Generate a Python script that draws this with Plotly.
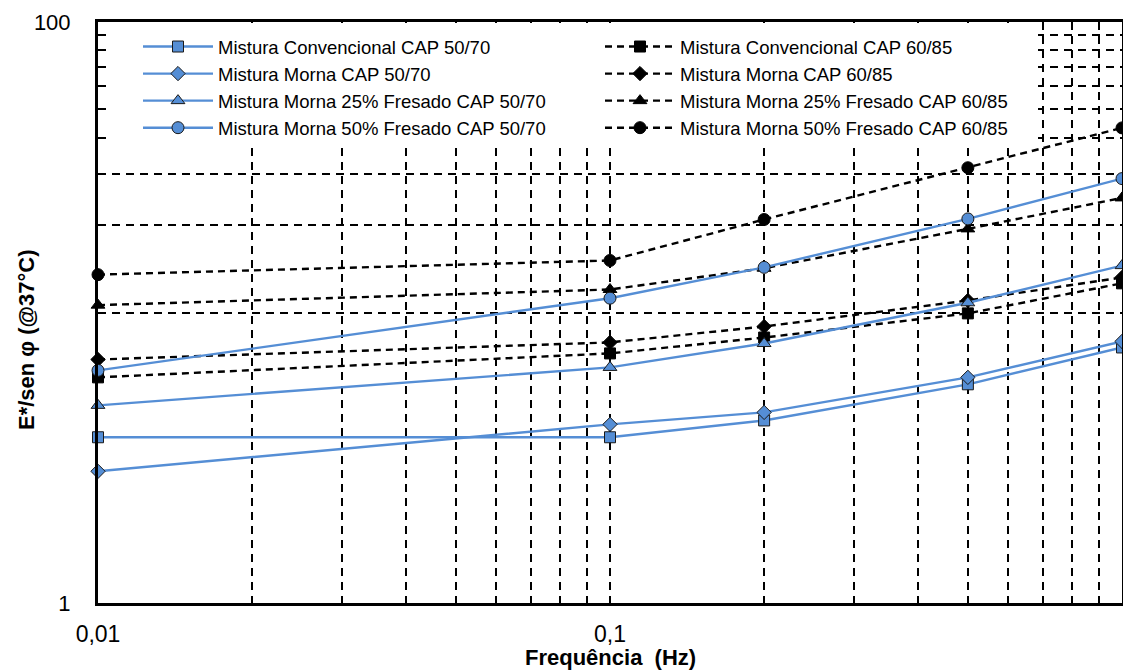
import plotly.graph_objects as go

# ---------------- data ----------------
freq = [0.01, 0.1, 0.2, 0.5, 1]

conv_5070 = [3.72, 3.72, 4.25, 5.66, 7.58]
morna_5070 = [2.84, 4.12, 4.53, 5.98, 7.95]
morna25_5070 = [4.79, 6.47, 7.82, 10.8, 14.5]
morna50_5070 = [6.32, 11.2, 14.3, 21.0, 28.9]

conv_6085 = [5.98, 7.23, 8.20, 9.93, 12.6]
morna_6085 = [6.89, 7.89, 8.95, 11.0, 13.2]
morna25_6085 = [10.6, 12.0, 14.2, 19.4, 24.8]
morna50_6085 = [13.5, 15.1, 20.9, 31.5, 43.2]

names_5070 = ["Mistura Convencional CAP 50/70", "Mistura Morna CAP 50/70",
              "Mistura Morna 25% Fresado CAP 50/70", "Mistura Morna 50% Fresado CAP 50/70"]
names_6085 = ["Mistura Convencional CAP 60/85", "Mistura Morna CAP 60/85",
              "Mistura Morna 25% Fresado CAP 60/85", "Mistura Morna 50% Fresado CAP 60/85"]

x_tickvals = [0.01, 0.1, 1]
x_ticktext = ["0,01", "0,1", "1"]
x_minor = [0.02, 0.03, 0.04, 0.05, 0.06, 0.07, 0.08, 0.09,
           0.2, 0.3, 0.4, 0.5, 0.6, 0.7, 0.8, 0.9]
y_tickvals = [1, 100]
y_ticktext = ["1", "100"]
y_minor = [10, 20, 30, 40, 50, 60, 70, 80, 90]

# ---------------- styles ----------------
BLUE = "#558ED5"
FONT = "Liberation Sans, Arial, sans-serif"
symbols = ["square", "diamond", "triangle-up", "circle"]
blue_sizes = [11, 11, 12, 12]
black_sizes = [11, 11, 12, 12]

W, H = 1123, 671
PLOT_L, PLOT_R, PLOT_T, PLOT_B = 98, 1122, 22, 603   # target window pixels
ML, MT = PLOT_L, PLOT_T
MR = W - PLOT_R
MB = H - PLOT_B
PW, PH = PLOT_R - PLOT_L, PLOT_B - PLOT_T


def px_x(p):
    return (p - PLOT_L) / PW


def px_y(p):
    return (PLOT_B - p) / PH


fig = go.Figure()

# black (60/85) drawn first, blue on top
for i, (name, vals) in enumerate(zip(names_6085, [conv_6085, morna_6085, morna25_6085, morna50_6085])):
    fig.add_trace(go.Scatter(
        x=freq, y=vals, name=name, mode="lines+markers",
        line=dict(color="black", width=2.4, dash="7px,5px"),
        marker=dict(symbol=symbols[i], size=black_sizes[i], color="black",
                    line=dict(color="black", width=1)),
        legendrank=2 * i + 2,
        cliponaxis=False,
    ))
for i, (name, vals) in enumerate(zip(names_5070, [conv_5070, morna_5070, morna25_5070, morna50_5070])):
    fig.add_trace(go.Scatter(
        x=freq, y=vals, name=name, mode="lines+markers",
        line=dict(color=BLUE, width=2.4),
        marker=dict(symbol=symbols[i], size=blue_sizes[i], color=BLUE,
                    line=dict(color="#1a1a1a", width=1)),
        legendrank=2 * i + 1,
        cliponaxis=False,
    ))

grid_style = dict(gridcolor="black", gridwidth=1.5, griddash="8px,6px")

fig.update_xaxes(
    type="log", range=[-2, 0], automargin=False,
    tickmode="array", tickvals=x_tickvals, ticktext=x_ticktext,
    ticks="", ticklabelstandoff=8,
    tickfont=dict(family=FONT, size=23, color="black"),
    showgrid=True, **grid_style,
    minor=dict(tickmode="array", tickvals=x_minor, showgrid=True, ticks="", **grid_style),
    showline=True, linecolor="black", linewidth=3, mirror=True,
    zeroline=False,
)
fig.update_yaxes(
    type="log", range=[0, 2], automargin=False,
    tickmode="array", tickvals=y_tickvals, ticktext=y_ticktext,
    ticks="", ticklabelstandoff=20,
    tickfont=dict(family=FONT, size=22, color="black"),
    showgrid=True, **grid_style,
    minor=dict(tickmode="array", tickvals=y_minor, showgrid=True, ticks="", **grid_style),
    showline=True, linecolor="black", linewidth=3, mirror=True,
    zeroline=False,
)

fig.update_layout(
    width=W, height=H,
    margin=dict(l=ML, r=MR, t=MT, b=MB, autoexpand=False),
    paper_bgcolor="white", plot_bgcolor="white",
    font=dict(family=FONT, color="black"),
    showlegend=True,
    legend=dict(
        orientation="h", x=px_x(138), y=px_y(28), xanchor="left", yanchor="top",
        entrywidth=377, entrywidthmode="pixels", itemwidth=70,
        bgcolor="rgba(0,0,0,0)", borderwidth=0,
        font=dict(family=FONT, size=18.5, color="black"),
        traceorder="normal",
    ),
    shapes=[
        dict(type="rect", xref="paper", yref="paper", layer="above",
             x0=px_x(111), x1=px_x(1038), y0=px_y(143), y1=px_y(23),
             fillcolor="white", line=dict(width=0)),
    ],
    annotations=[
        dict(text="<b>Frequência\u00a0\u00a0(Hz)</b>", xref="paper", yref="paper",
             x=0.5, y=px_y(657), xanchor="center", yanchor="middle", showarrow=False,
             font=dict(family=FONT, size=22, color="black")),
        dict(text="<b>E*/sen φ (@37°C)</b>", xref="paper", yref="paper",
             x=px_x(26), y=px_y(340), xanchor="center", yanchor="middle", showarrow=False,
             textangle=-90, font=dict(family=FONT, size=22, color="black")),
    ],
)

fig.write_html(
    "out.html",
    config={"displayModeBar": False},
    post_script="document.body.style.margin='0';document.body.style.overflow='hidden';",
)
